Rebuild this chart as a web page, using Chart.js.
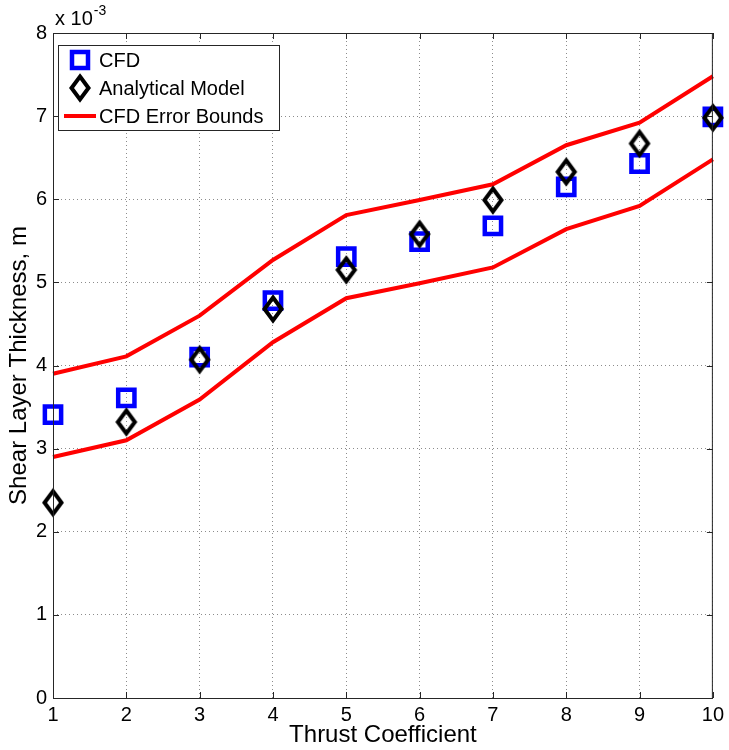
<!DOCTYPE html>
<html>
<head>
<meta charset="utf-8">
<script src="https://cdn.jsdelivr.net/npm/chart.js@4/dist/chart.umd.min.js"></script>
<style>
  html, body { margin: 0; padding: 0; background: #fff; }
  #wrap { width: 729px; height: 750px; position: relative; }
</style>
</head>
<body>
<div id="wrap"><canvas id="c"></canvas></div>
<script>
/* Shear layer thickness vs thrust coefficient (valores en unidades de 1e-3 m) */
const thrust = [1, 2, 3, 4, 5, 6, 7, 8, 9, 10];
const cfd = [3.41, 3.61, 4.10, 4.78, 5.31, 5.49, 5.68, 6.15, 6.43, 6.99];
const analytical = [2.35, 3.32, 4.07, 4.68, 5.15, 5.58, 5.99, 6.33, 6.67, 6.98];
const upperBound = [3.90, 4.11, 4.60, 5.27, 5.81, 5.99, 6.18, 6.65, 6.92, 7.48];
const lowerBound = [2.90, 3.10, 3.59, 4.28, 4.81, 4.99, 5.18, 5.64, 5.92, 6.48];
const xTicks = [1, 2, 3, 4, 5, 6, 7, 8, 9, 10];
const yTicks = [0, 1, 2, 3, 4, 5, 6, 7, 8];

const FONT = '"Liberation Sans", Arial, Helvetica, sans-serif';
const BLUE = '#0000ff', RED = '#ff0000', BLACK = '#000000';

const pts = (ys) => thrust.map((x, i) => ({ x, y: ys[i] }));

// diamante de MATLAB: más alto que ancho
function diamondImage() {
  const cv = document.createElement('canvas');
  cv.width = 28; cv.height = 34;
  const g = cv.getContext('2d');
  g.strokeStyle = BLACK; g.lineWidth = 4; g.lineJoin = 'miter';
  g.beginPath();
  g.moveTo(14, 17 - 11.5); g.lineTo(14 + 8.5, 17); g.lineTo(14, 17 + 11.5); g.lineTo(14 - 8.5, 17);
  g.closePath(); g.stroke();
  return cv;
}
const diamond = diamondImage();

/* marco de caja, ticks hacia dentro, "x 10^-3" y leyenda */
const matlabFrame = {
  id: 'matlabFrame',
  afterDraw(chart) {
    const { ctx, chartArea: a, scales: { x, y } } = chart;
    ctx.save();
    ctx.strokeStyle = '#262626'; ctx.lineWidth = 1;
    ctx.strokeRect(a.left + 0.5, a.top + 0.5, a.right - a.left - 1, a.bottom - a.top);
    const TL = 6;
    ctx.beginPath();
    xTicks.forEach((v) => {
      const px = Math.round(x.getPixelForValue(v)) + 0.5;
      ctx.moveTo(px, a.bottom); ctx.lineTo(px, a.bottom - TL);
      ctx.moveTo(px, a.top); ctx.lineTo(px, a.top + TL);
    });
    yTicks.forEach((v) => {
      const py = Math.round(y.getPixelForValue(v)) + 0.5;
      ctx.moveTo(a.left, py); ctx.lineTo(a.left + TL, py);
      ctx.moveTo(a.right, py); ctx.lineTo(a.right - TL, py);
    });
    ctx.stroke();

    // exponente
    ctx.fillStyle = BLACK;
    ctx.textBaseline = 'alphabetic'; ctx.textAlign = 'left';
    ctx.font = '20px ' + FONT;
    ctx.fillText('x 10', a.left + 2, a.top - 8);
    const w = ctx.measureText('x 10').width;
    ctx.font = '14px ' + FONT;
    ctx.fillText('-3', a.left + 3 + w, a.top - 18);

    // leyenda
    const lx = 58, ly = 45, lw = 221, lh = 85;
    ctx.fillStyle = '#fff';
    ctx.fillRect(lx, ly, lw, lh);
    ctx.strokeStyle = '#262626'; ctx.lineWidth = 1;
    ctx.strokeRect(lx + 0.5, ly + 0.5, lw, lh);
    const rows = [ly + 15, ly + 43, ly + 71];
    const mx = lx + 22;
    ctx.strokeStyle = BLUE; ctx.lineWidth = 4.5;
    ctx.strokeRect(mx - 8, rows[0] - 8, 16, 16);
    ctx.drawImage(diamond, mx - 14, rows[1] - 17);
    ctx.strokeStyle = RED; ctx.lineWidth = 4;
    ctx.beginPath(); ctx.moveTo(lx + 6, rows[2]); ctx.lineTo(lx + 38, rows[2]); ctx.stroke();
    ctx.fillStyle = BLACK; ctx.font = '20px ' + FONT; ctx.textBaseline = 'middle';
    ['CFD', 'Analytical Model', 'CFD Error Bounds'].forEach((t, i) => ctx.fillText(t, lx + 41, rows[i] + 1));
    ctx.restore();
  },
};

new Chart(document.getElementById('c'), {
  type: 'scatter',
  data: {
    datasets: [
      { label: 'CFD', data: pts(cfd), pointStyle: 'rect', pointRadius: 11.5, pointBorderWidth: 4.5,
        pointBorderColor: BLUE, pointBackgroundColor: 'rgba(0,0,0,0)', showLine: false, clip: false, order: 2 },
      { label: 'Analytical Model', data: pts(analytical), pointStyle: diamond, pointRadius: 14,
        showLine: false, clip: false, order: 1 },
      { label: 'CFD Error Bounds', data: pts(upperBound), showLine: true, borderColor: RED, borderWidth: 4,
        pointRadius: 0, tension: 0, clip: false, order: 3 },
      { label: 'CFD Error Bounds', data: pts(lowerBound), showLine: true, borderColor: RED, borderWidth: 4,
        pointRadius: 0, tension: 0, clip: false, order: 3 },
    ],
  },
  options: {
    responsive: true, maintainAspectRatio: false, animation: false,
    layout: { padding: { left: 0, right: 14, top: 33, bottom: 0 } },
    plugins: { legend: { display: false }, tooltip: { enabled: false } },
    scales: {
      x: {
        type: 'linear', min: 1, max: 10,
        afterBuildTicks: (s) => { s.ticks = xTicks.map((v) => ({ value: v })); },
        afterFit: (s) => { s.height = 52; },
        grid: { color: '#8c8c8c', lineWidth: 1, drawTicks: false },
        border: { display: false, dash: [1, 3] },
        ticks: { color: BLACK, padding: 5, font: { family: FONT, size: 20 } },
        title: { display: true, text: 'Thrust Coefficient', color: BLACK, padding: { top: 0, bottom: 0 },
                 font: { family: FONT, size: 24 } },
      },
      y: {
        min: 0, max: 8,
        afterBuildTicks: (s) => { s.ticks = yTicks.map((v) => ({ value: v })); },
        afterFit: (s) => { s.width = 53; },
        grid: { color: '#8c8c8c', lineWidth: 1, drawTicks: false },
        border: { display: false, dash: [1, 3] },
        ticks: { color: BLACK, padding: 6, font: { family: FONT, size: 20 } },
        title: { display: true, text: 'Shear Layer Thickness, m', color: BLACK, padding: { top: 5, bottom: 0 },
                 font: { family: FONT, size: 24 } },
      },
    },
  },
  plugins: [matlabFrame],
});
</script>
</body>
</html>
